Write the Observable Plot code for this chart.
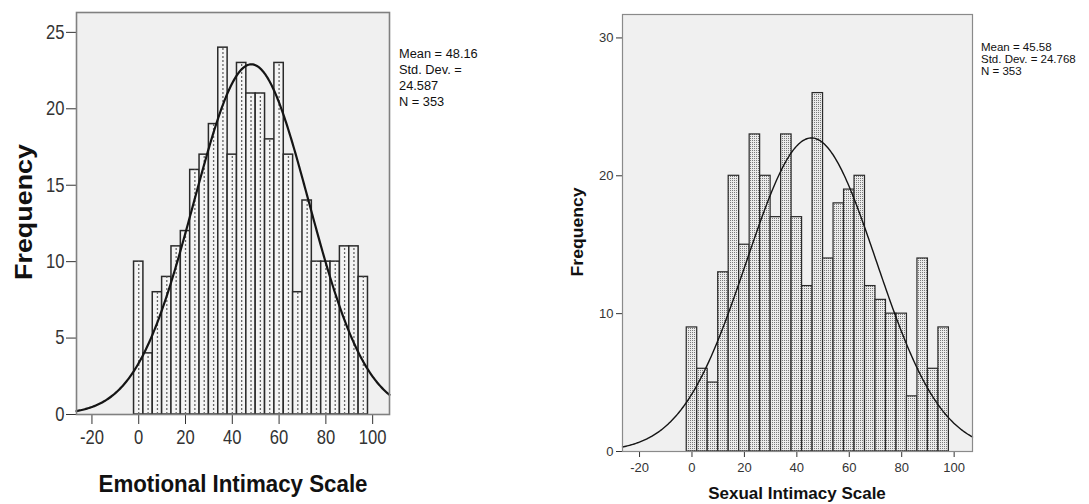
<!DOCTYPE html>
<html>
<head>
<meta charset="utf-8">
<script src="https://cdn.jsdelivr.net/npm/d3@7"></script>
<script src="https://cdn.jsdelivr.net/npm/@observablehq/plot@0.6"></script>
<style>
  html, body { margin: 0; padding: 0; background: #fff; }
  #wrap { position: relative; width: 1089px; height: 504px; overflow: hidden; background: #fff; }
  #left, #right { position: absolute; top: 0; }
  #left { left: 0; }
  #right { left: 530px; }
  #overlay { position: absolute; left: 0; top: 0; pointer-events: none; }
  #overlay text { font-family: "Liberation Sans", Arial, sans-serif; fill: #111; }
</style>
</head>
<body>
<div id="wrap">
  <div id="left"></div>
  <div id="right"></div>
  <svg id="overlay" width="1089" height="504">
    <text transform="translate(32,212) rotate(-90) scale(1.12,1)" text-anchor="middle" font-weight="bold" font-size="24">Frequency</text>
    <text transform="translate(233,492) scale(0.93,1)" text-anchor="middle" font-weight="bold" font-size="24">Emotional Intimacy Scale</text>
    <text transform="translate(399,58) scale(0.95,1)" font-size="13.5">Mean = 48.16</text>
    <text transform="translate(399,74) scale(0.95,1)" font-size="13.5">Std. Dev. =</text>
    <text transform="translate(399,90) scale(0.95,1)" font-size="13.5">24.587</text>
    <text transform="translate(399,106) scale(0.95,1)" font-size="13.5">N = 353</text>
    <text transform="translate(583,232) rotate(-90) scale(1.1,1)" text-anchor="middle" font-weight="bold" font-size="16">Frequency</text>
    <text x="797" y="499" text-anchor="middle" font-weight="bold" font-size="17">Sexual Intimacy Scale</text>
    <text x="981" y="51" font-size="11.5">Mean = 45.58</text>
    <text x="981" y="63" font-size="11.5">Std. Dev. = 24.768</text>
    <text x="981" y="75" font-size="11.5">N = 353</text>
  </svg>
</div>
<script>
// ---- data ----
const binCenters = [0, 4, 8, 12, 16, 20, 24, 28, 32, 36, 40, 44, 48, 52, 56, 60, 64, 68, 72, 76, 80, 84, 88, 92, 96];
const binWidth = 4;
const emotionalCounts = [10, 4, 8, 9, 11, 12, 16, 17, 19, 24, 17, 23, 21, 21, 18, 23, 17, 8, 14, 10, 10, 10, 11, 11, 9];
const sexualCounts = [9, 6, 5, 13, 20, 15, 23, 20, 17, 23, 17, 12, 26, 14, 18, 19, 20, 12, 11, 10, 10, 4, 14, 6, 9];
const emotionalMean = 48.16, emotionalSD = 24.587, emotionalN = 353;
const sexualMean = 45.58, sexualSD = 24.768, sexualN = 353;
const xTicks = [-20, 0, 20, 40, 60, 80, 100];
const emotionalYTicks = [0, 5, 10, 15, 20, 25];
const sexualYTicks = [0, 10, 20, 30];

function normalCurve(mean, sd, n, x0, x1) {
  const pts = [];
  const k = n * binWidth / (sd * Math.sqrt(2 * Math.PI));
  for (let i = 0; i <= 300; i++) {
    const x = x0 + (x1 - x0) * i / 300;
    pts.push({x, y: k * Math.exp(-0.5 * ((x - mean) / sd) ** 2)});
  }
  return pts;
}

function makeChart(o) {
  const bars = binCenters.map((c, i) => ({c, v: o.counts[i]}));
  const curve = normalCurve(o.mean, o.sd, o.n, o.xDomain[0], o.xDomain[1]);
  const marks = [
    Plot.frame({fill: "#f0f0f0", stroke: null}),
    Plot.rectY(bars, {x1: d => d.c - binWidth / 2, x2: d => d.c + binWidth / 2, y1: 0, y2: "v",
      fill: o.barFill, stroke: o.barStroke, strokeWidth: o.barStrokeWidth, inset: 0})
  ];
  if (o.dashed) {
    marks.push(Plot.ruleX(bars, {x: "c", y1: 0, y2: "v", stroke: "#666", strokeWidth: 1.3, strokeDasharray: "2,2"}));
  }
  marks.push(Plot.line(curve, {x: "x", y: "y", stroke: "#151515", strokeWidth: o.curveWidth}));
  marks.push(Plot.frame({stroke: o.frameStroke, strokeWidth: o.frameWidth}));
  const fmt = d => String(d);
  const svg = Plot.plot({
    width: o.width, height: o.height,
    marginLeft: o.ml, marginRight: o.mr, marginTop: o.mt, marginBottom: o.mb,
    x: {domain: o.xDomain, ticks: xTicks, tickFormat: fmt, tickSize: o.tsx, tickPadding: o.tpx, label: null},
    y: {domain: o.yDomain, ticks: o.yTicks, tickFormat: fmt, tickSize: o.tsy, tickPadding: o.tpy, label: null},
    style: {fontSize: o.fontSize + "px", fontFamily: "'Liberation Sans', Arial, sans-serif", color: "#333", background: "transparent", overflow: "visible"},
    marks
  });
  // stipple pattern definition
  const ns = "http://www.w3.org/2000/svg";
  const defs = document.createElementNS(ns, "defs");
  defs.innerHTML = `<pattern id="stipple" width="2" height="2" patternUnits="userSpaceOnUse">
      <rect width="2" height="2" fill="#ebebeb"/><rect width="1" height="1" fill="#7a7a7a"/></pattern>`;
  svg.insertBefore(defs, svg.firstChild);
  if (o.textScale !== 1) {
    svg.querySelectorAll('[aria-label*="tick label"] text, g.tick text').forEach(t => {
      const tr = t.getAttribute("transform") || "";
      t.setAttribute("transform", tr + ` scale(${o.textScale},1)`);
    });
  }
  return svg;
}

document.getElementById("left").appendChild(makeChart({
  counts: emotionalCounts, mean: emotionalMean, sd: emotionalSD, n: emotionalN,
  xDomain: [-26.6, 107.2], yDomain: [0, 26.3], yTicks: emotionalYTicks,
  width: 480, height: 504, ml: 76, mr: 91, mt: 12, mb: 90,
  tsx: 10, tpx: 5, tsy: 10, tpy: 2, fontSize: 20, textScale: 0.83,
  barFill: "#f4f4f4", barStroke: "#2a2a2a", barStrokeWidth: 1.5, dashed: true,
  curveWidth: 2.2, frameStroke: "#808080", frameWidth: 1.6
}));

document.getElementById("right").appendChild(makeChart({
  counts: sexualCounts, mean: sexualMean, sd: sexualSD, n: sexualN,
  xDomain: [-26.5, 107], yDomain: [0, 31.7], yTicks: sexualYTicks,
  width: 559, height: 504, ml: 92, mr: 117, mt: 14, mb: 53,
  tsx: 6, tpx: 5, tsy: 6, tpy: 3, fontSize: 13, textScale: 1,
  barFill: "url(#stipple)", barStroke: "#2a2a2a", barStrokeWidth: 1.2, dashed: false,
  curveWidth: 1.4, frameStroke: "#8a8a8a", frameWidth: 1.2
}));
</script>
</body>
</html>
